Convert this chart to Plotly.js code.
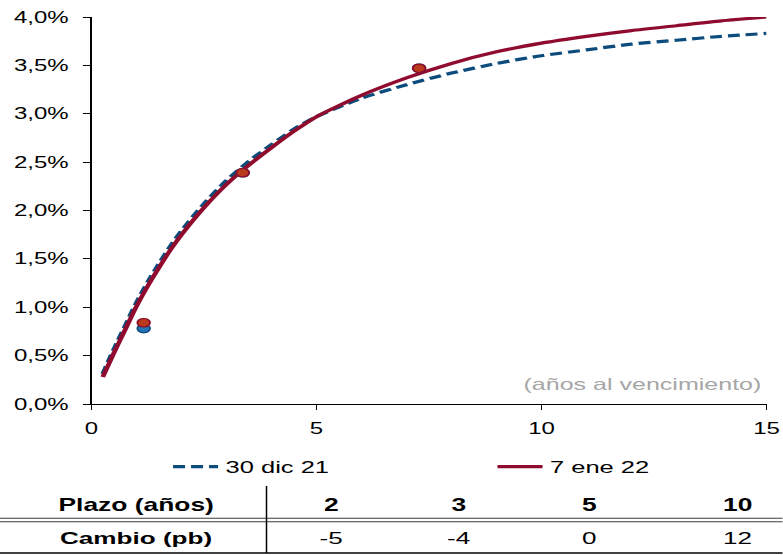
<!DOCTYPE html>
<html>
<head>
<meta charset="utf-8">
<script src="https://cdn.plot.ly/plotly-3.0.1.min.js"></script>
<style>
  html, body { margin: 0; padding: 0; background: #fff; overflow: hidden; }
  #chart { width: 522px; height: 555px; transform: scaleX(1.5); transform-origin: 0 0; }
</style>
</head>
<body>
<div id="chart"></div>
<script>
// ---- data ----
const maturities   = [0.25, 0.5, 0.75, 1, 1.25, 1.5, 1.75, 2, 2.5, 3, 3.5, 4, 4.5, 5, 6, 7, 8, 9, 10, 11, 12, 13, 14, 15];
const yield30dic21 = [0.31, 0.57, 0.81, 1.05, 1.26, 1.45, 1.63, 1.79, 2.07, 2.31, 2.51, 2.68, 2.84, 2.97, 3.16, 3.30, 3.42, 3.52, 3.60, 3.66, 3.72, 3.76, 3.80, 3.83];
const yield7ene22  = [0.28, 0.53, 0.77, 1.01, 1.22, 1.41, 1.59, 1.75, 2.03, 2.27, 2.47, 2.65, 2.82, 2.97, 3.19, 3.37, 3.52, 3.64, 3.73, 3.80, 3.86, 3.91, 3.96, 4.00];

const bondMaturities = [1.16, 3.36, 7.28];
const bond30dic21    = [0.78, 2.39, 3.47];
const bond7ene22     = [0.84, 2.39, 3.47];

const seriesNames = ['30 dic 21', '7 ene 22'];

const tableHeader = ['Plazo (años)', 'Cambio (pb)'];
const plazos  = ['2', '3', '5', '10'];
const cambios = [-5, -4, 0, 12];

const xTickVals = [0, 5, 10, 15];
const xAxisNote = '(años al vencimiento)';

// ---- layout helpers (pre-stretch pixel coords -> paper) ----
const W = 522, H = 555;
const M = { l: 61.33, r: 10.67, t: 17, b: 151 };
const PW = W - M.l - M.r, PH = H - M.t - M.b;
const px = x => (x - M.l) / PW;
const py = y => (H - M.b - y) / PH;

const BLUE = '#0B4C7C';
const RED = '#900C2F';
const FONT = 'Liberation Sans, Arial, sans-serif';

const traces = [
  { x: maturities, y: yield30dic21, name: seriesNames[0], type: 'scatter', mode: 'lines', legend: 'legend',
    line: { color: BLUE, width: 3.2, dash: '8px,4px', shape: 'spline', smoothing: 0.7 } },
  { x: maturities, y: yield7ene22, name: seriesNames[1], type: 'scatter', mode: 'lines', legend: 'legend2',
    line: { color: RED, width: 3.2, shape: 'spline', smoothing: 0.7 } },
  { x: bondMaturities, y: bond30dic21, type: 'scatter', mode: 'markers', showlegend: false,
    marker: { color: '#2673B5', size: 8.5, line: { color: '#0D4A80', width: 1.2 } } },
  { x: bondMaturities, y: bond7ene22, type: 'scatter', mode: 'markers', showlegend: false,
    marker: { color: '#BA3A1E', size: 8.5, line: { color: '#8A0B2A', width: 1.2 } } }
];

const annotations = [];
const shapes = [];

annotations.push({ xref: 'paper', yref: 'paper', x: px(510), y: py(384), xanchor: 'right', yanchor: 'middle',
  text: xAxisNote, showarrow: false, font: { family: FONT, size: 16.7, color: '#A6A6A6' } });

// table
const colX = [221.3, 306.7, 393.3, 492];
const rowY = [505.5, 538];
annotations.push({ xref: 'paper', yref: 'paper', x: px(91.3), y: py(rowY[0]), xanchor: 'center', yanchor: 'middle',
  text: '<b>' + tableHeader[0] + '</b>', showarrow: false, font: { family: FONT, size: 17.6, color: '#000' } });
annotations.push({ xref: 'paper', yref: 'paper', x: px(91.3), y: py(rowY[1]), xanchor: 'center', yanchor: 'middle',
  text: '<b>' + tableHeader[1] + '</b>', showarrow: false, font: { family: FONT, size: 17.4, color: '#000' } });
plazos.forEach((p, i) => {
  annotations.push({ xref: 'paper', yref: 'paper', x: px(colX[i]), y: py(rowY[0]), xanchor: 'center', yanchor: 'middle',
    text: '<b>' + p + '</b>', showarrow: false, font: { family: FONT, size: 17.6, color: '#000' } });
});
cambios.forEach((c, i) => {
  annotations.push({ xref: 'paper', yref: 'paper', x: px(colX[i]), y: py(rowY[1]), xanchor: 'center', yanchor: 'middle',
    text: String(c), showarrow: false, font: { family: FONT, size: 17.4, color: '#000' } });
});

shapes.push({ type: 'line', xref: 'paper', yref: 'paper', x0: px(0), x1: px(W), y0: py(518.3), y1: py(518.3), line: { color: '#3a3a3a', width: 1 } });
shapes.push({ type: 'line', xref: 'paper', yref: 'paper', x0: px(0), x1: px(W), y0: py(521.7), y1: py(521.7), line: { color: '#3a3a3a', width: 1 } });
shapes.push({ type: 'line', xref: 'paper', yref: 'paper', x0: px(0), x1: px(W), y0: py(553), y1: py(553), line: { color: '#000', width: 1.3 } });
shapes.push({ type: 'line', xref: 'paper', yref: 'paper', x0: px(178), x1: px(178), y0: py(486), y1: py(553), line: { color: '#000', width: 1 } });

const legendBase = {
  orientation: 'h', xref: 'paper', yref: 'paper', xanchor: 'left', yanchor: 'middle',
  font: { family: FONT, size: 17, color: '#000' },
  bgcolor: 'rgba(0,0,0,0)', borderwidth: 0
};

const layout = {
  width: W, height: H,
  margin: M,
  paper_bgcolor: '#fff', plot_bgcolor: '#fff',
  separators: ',.',
  showlegend: true,
  font: { family: FONT, color: '#000' },
  xaxis: {
    range: [0, 15], tickvals: xTickVals, showgrid: false, zeroline: false,
    showline: true, linecolor: '#000', linewidth: 1,
    ticks: 'outside', ticklen: 5, tickcolor: '#000', tickwidth: 1,
    ticklabelstandoff: 5,
    tickfont: { family: FONT, size: 16, color: '#000' }
  },
  yaxis: {
    range: [0, 4], dtick: 0.5, tick0: 0, tickformat: '.1f', ticksuffix: '%',
    showgrid: false, zeroline: false,
    showline: true, linecolor: '#000', linewidth: 1,
    ticks: 'outside', ticklen: 5, tickcolor: '#000', tickwidth: 1,
    ticklabelstandoff: 6,
    tickfont: { family: FONT, size: 16, color: '#000' }
  },
  legend: Object.assign({}, legendBase, { x: px(110.7), y: py(467) }),
  legend2: Object.assign({}, legendBase, { x: px(327), y: py(467) }),
  annotations: annotations,
  shapes: shapes
};

Plotly.newPlot('chart', traces, layout, { displayModeBar: false, staticPlot: true });
</script>
</body>
</html>
